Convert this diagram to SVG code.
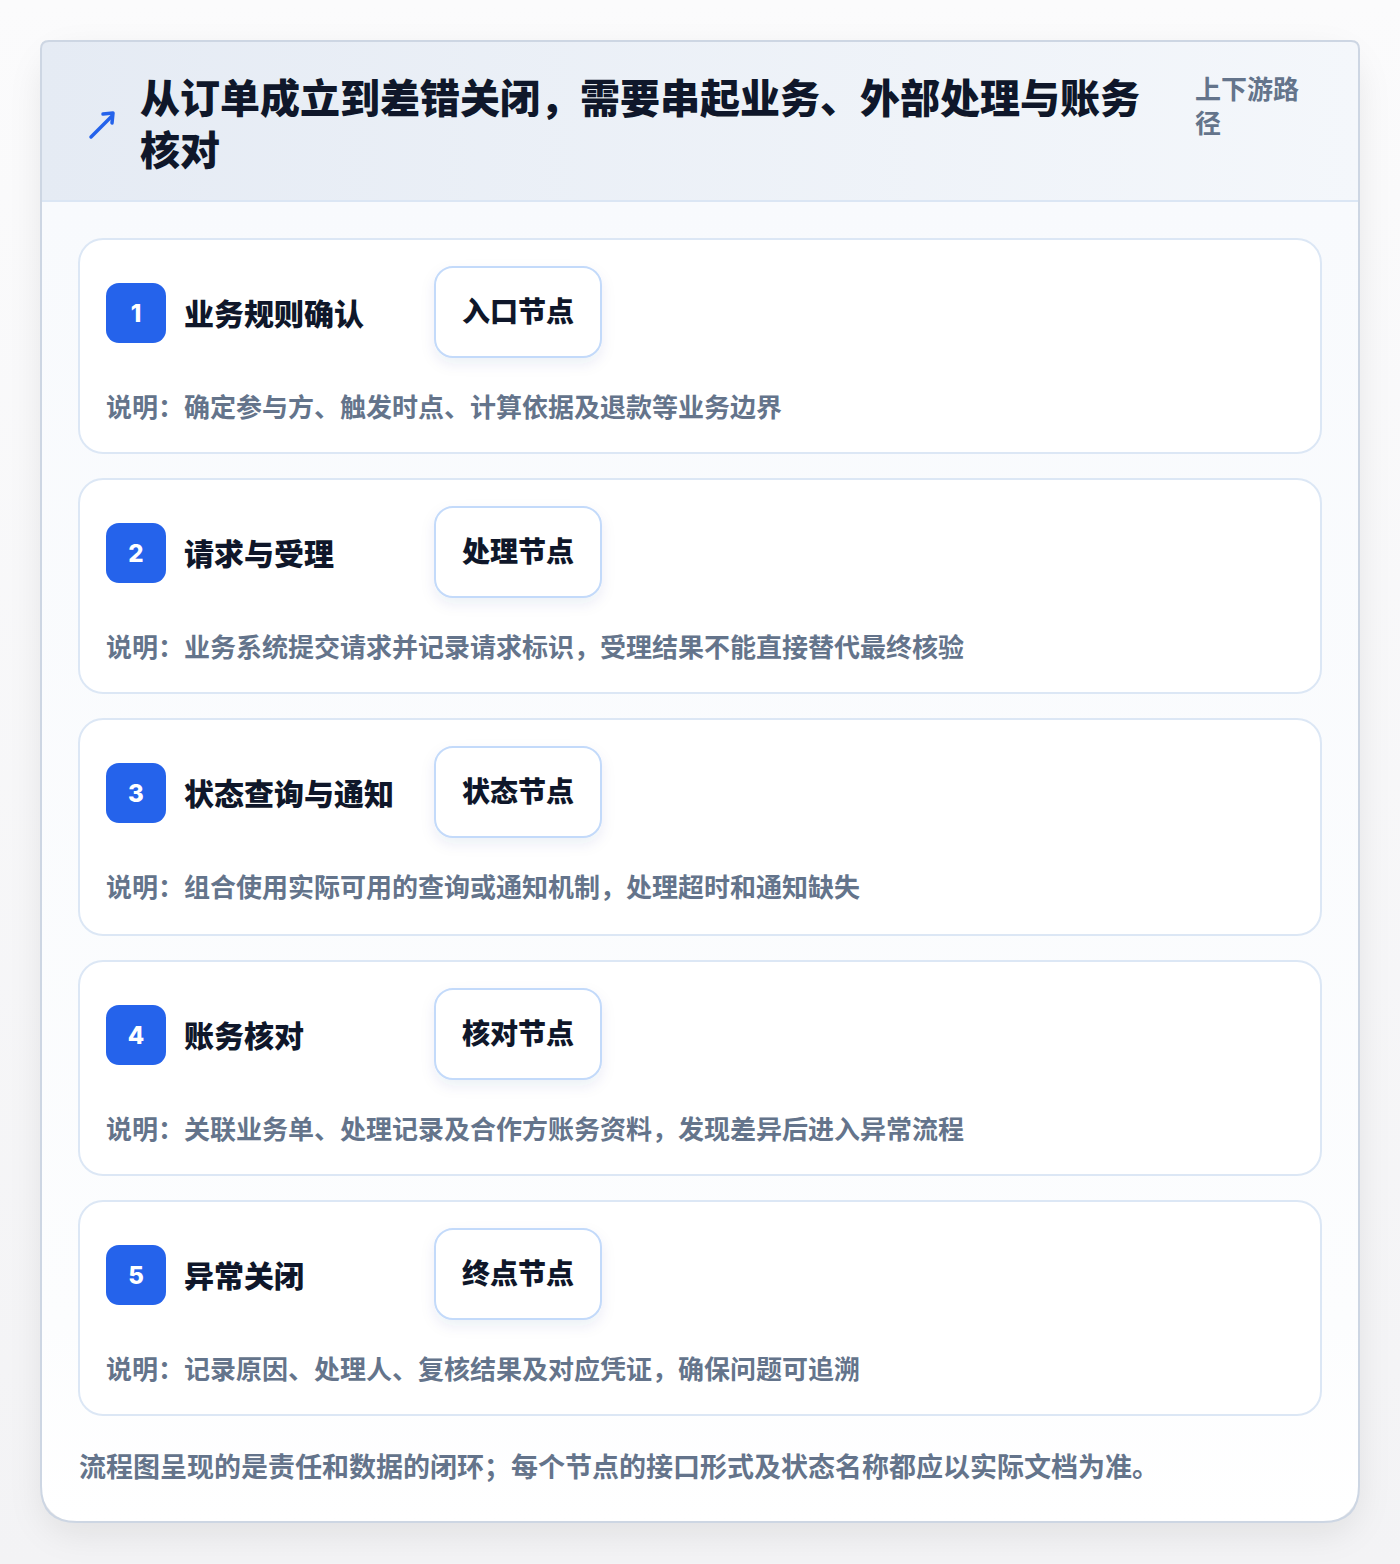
<svg xmlns="http://www.w3.org/2000/svg" width="1400" height="1564" viewBox="0 0 1400 1564">
<defs>
<linearGradient id="pageBg" x1="0" y1="0" x2="0" y2="1">
<stop offset="0" stop-color="#fbfbfc"/>
<stop offset="1" stop-color="#f3f3f5"/>
</linearGradient>
<linearGradient id="hdrBg" x1="0" y1="0" x2="1" y2="0">
<stop offset="0" stop-color="#e5ebf4"/>
<stop offset="1" stop-color="#f4f7fb"/>
</linearGradient>
<linearGradient id="bodyBg" x1="0" y1="0" x2="0" y2="1">
<stop offset="0" stop-color="#f8fafd"/>
<stop offset="0.85" stop-color="#fcfdfe"/>
<stop offset="1" stop-color="#ffffff"/>
</linearGradient>
<filter id="cardShadow" x="-10%" y="-10%" width="120%" height="120%">
<feDropShadow dx="0" dy="12" stdDeviation="16" flood-color="#0f172a" flood-opacity="0.08"/>
</filter>
<filter id="tagShadow" x="-20%" y="-20%" width="140%" height="150%">
<feDropShadow dx="0" dy="6" stdDeviation="7" flood-color="#1e3a8a" flood-opacity="0.08"/>
</filter>
<clipPath id="cardClip">
<rect x="41" y="41" width="1318" height="1481" rx="36"/>
</clipPath>
</defs>
<style>
.cjk{font-family:"Noto Sans CJK SC","Noto Sans",sans-serif;font-weight:700}
.title{font-size:40px;fill:#0f172a;font-weight:900}
.side{font-size:26px;fill:#64748b}
.step{fill:#ffffff;stroke:#dce7f5;stroke-width:2}
.badge{fill:#2563eb}
.num{font-family:"Inter","Noto Sans",sans-serif;font-weight:800;font-size:24px;fill:#ffffff}
.stitle{font-size:30px;fill:#0f172a;font-weight:900}
.tag{fill:#ffffff;stroke:#c3dafa;stroke-width:2}
.tagt{font-size:28px;fill:#0f172a;font-weight:900}
.desc{font-size:26px;fill:#64748b}
.foot{font-size:27px;fill:#64748b}
</style>
<rect x="0" y="0" width="1400" height="1564" fill="url(#pageBg)"/>
<g id="card">
<rect x="41" y="41" width="1318" height="1481" rx="36" fill="#ffffff" filter="url(#cardShadow)"/>
<g clip-path="url(#cardClip)">
<rect x="41" y="201" width="1318" height="1321" fill="url(#bodyBg)"/>
</g>
<path d="M49,41 H1351 Q1359,41 1359,49 V201 H41 V49 Q41,41 49,41 Z" fill="url(#hdrBg)"/>
<line x1="41" y1="201" x2="1359" y2="201" stroke="#dbe6f4" stroke-width="2"/>
<path d="M49,41 H1351 Q1359,41 1359,49 V1486 Q1359,1522 1323,1522 H77 Q41,1522 41,1486 V49 Q41,41 49,41 Z" fill="none" stroke="#cdd6e3" stroke-width="2"/>
</g>
<g id="header">
<g id="icon" stroke="#2563eb" stroke-width="3.5" stroke-linecap="round" stroke-linejoin="round" fill="none">
<line x1="91" y1="137" x2="112" y2="116"/>
<polyline points="103,114 113,113 112,123"/>
</g>
<text class="cjk title" x="140" y="113">从订单成立到差错关闭，需要串起业务、外部处理与账务</text>
<text class="cjk title" x="140" y="165">核对</text>
<text class="cjk side" x="1195" y="99">上下游路</text>
<text class="cjk side" x="1195" y="133">径</text>
</g>
<g id="connectors"></g>
<g id="step1">
<rect class="step" x="79" y="239" width="1242" height="214" rx="24"/>
<rect class="badge" x="106" y="283" width="60" height="60" rx="13"/>
<text class="num" x="136" y="322" text-anchor="middle">1</text>
<text class="cjk stitle" x="184" y="325">业务规则确认</text>
<rect class="tag" x="435" y="267" width="166" height="90" rx="18" filter="url(#tagShadow)"/>
<text class="cjk tagt" x="518" y="322" text-anchor="middle">入口节点</text>
<text class="cjk desc" x="106" y="417">说明：确定参与方、触发时点、计算依据及退款等业务边界</text>
</g>
<g id="step2">
<rect class="step" x="79" y="479" width="1242" height="214" rx="24"/>
<rect class="badge" x="106" y="523" width="60" height="60" rx="13"/>
<text class="num" x="136" y="562" text-anchor="middle">2</text>
<text class="cjk stitle" x="184" y="565">请求与受理</text>
<rect class="tag" x="435" y="507" width="166" height="90" rx="18" filter="url(#tagShadow)"/>
<text class="cjk tagt" x="518" y="562" text-anchor="middle">处理节点</text>
<text class="cjk desc" x="106" y="657">说明：业务系统提交请求并记录请求标识，受理结果不能直接替代最终核验</text>
</g>
<g id="step3">
<rect class="step" x="79" y="719" width="1242" height="216" rx="24"/>
<rect class="badge" x="106" y="763" width="60" height="60" rx="13"/>
<text class="num" x="136" y="802" text-anchor="middle">3</text>
<text class="cjk stitle" x="184" y="805">状态查询与通知</text>
<rect class="tag" x="435" y="747" width="166" height="90" rx="18" filter="url(#tagShadow)"/>
<text class="cjk tagt" x="518" y="802" text-anchor="middle">状态节点</text>
<text class="cjk desc" x="106" y="897">说明：组合使用实际可用的查询或通知机制，处理超时和通知缺失</text>
</g>
<g id="step4">
<rect class="step" x="79" y="961" width="1242" height="214" rx="24"/>
<rect class="badge" x="106" y="1005" width="60" height="60" rx="13"/>
<text class="num" x="136" y="1044" text-anchor="middle">4</text>
<text class="cjk stitle" x="184" y="1047">账务核对</text>
<rect class="tag" x="435" y="989" width="166" height="90" rx="18" filter="url(#tagShadow)"/>
<text class="cjk tagt" x="518" y="1044" text-anchor="middle">核对节点</text>
<text class="cjk desc" x="106" y="1139">说明：关联业务单、处理记录及合作方账务资料，发现差异后进入异常流程</text>
</g>
<g id="step5">
<rect class="step" x="79" y="1201" width="1242" height="214" rx="24"/>
<rect class="badge" x="106" y="1245" width="60" height="60" rx="13"/>
<text class="num" x="136" y="1284" text-anchor="middle">5</text>
<text class="cjk stitle" x="184" y="1287">异常关闭</text>
<rect class="tag" x="435" y="1229" width="166" height="90" rx="18" filter="url(#tagShadow)"/>
<text class="cjk tagt" x="518" y="1284" text-anchor="middle">终点节点</text>
<text class="cjk desc" x="106" y="1379">说明：记录原因、处理人、复核结果及对应凭证，确保问题可追溯</text>
</g>
<g id="footer">
<text class="cjk foot" x="79" y="1477">流程图呈现的是责任和数据的闭环；每个节点的接口形式及状态名称都应以实际文档为准。</text>
</g>
</svg>
